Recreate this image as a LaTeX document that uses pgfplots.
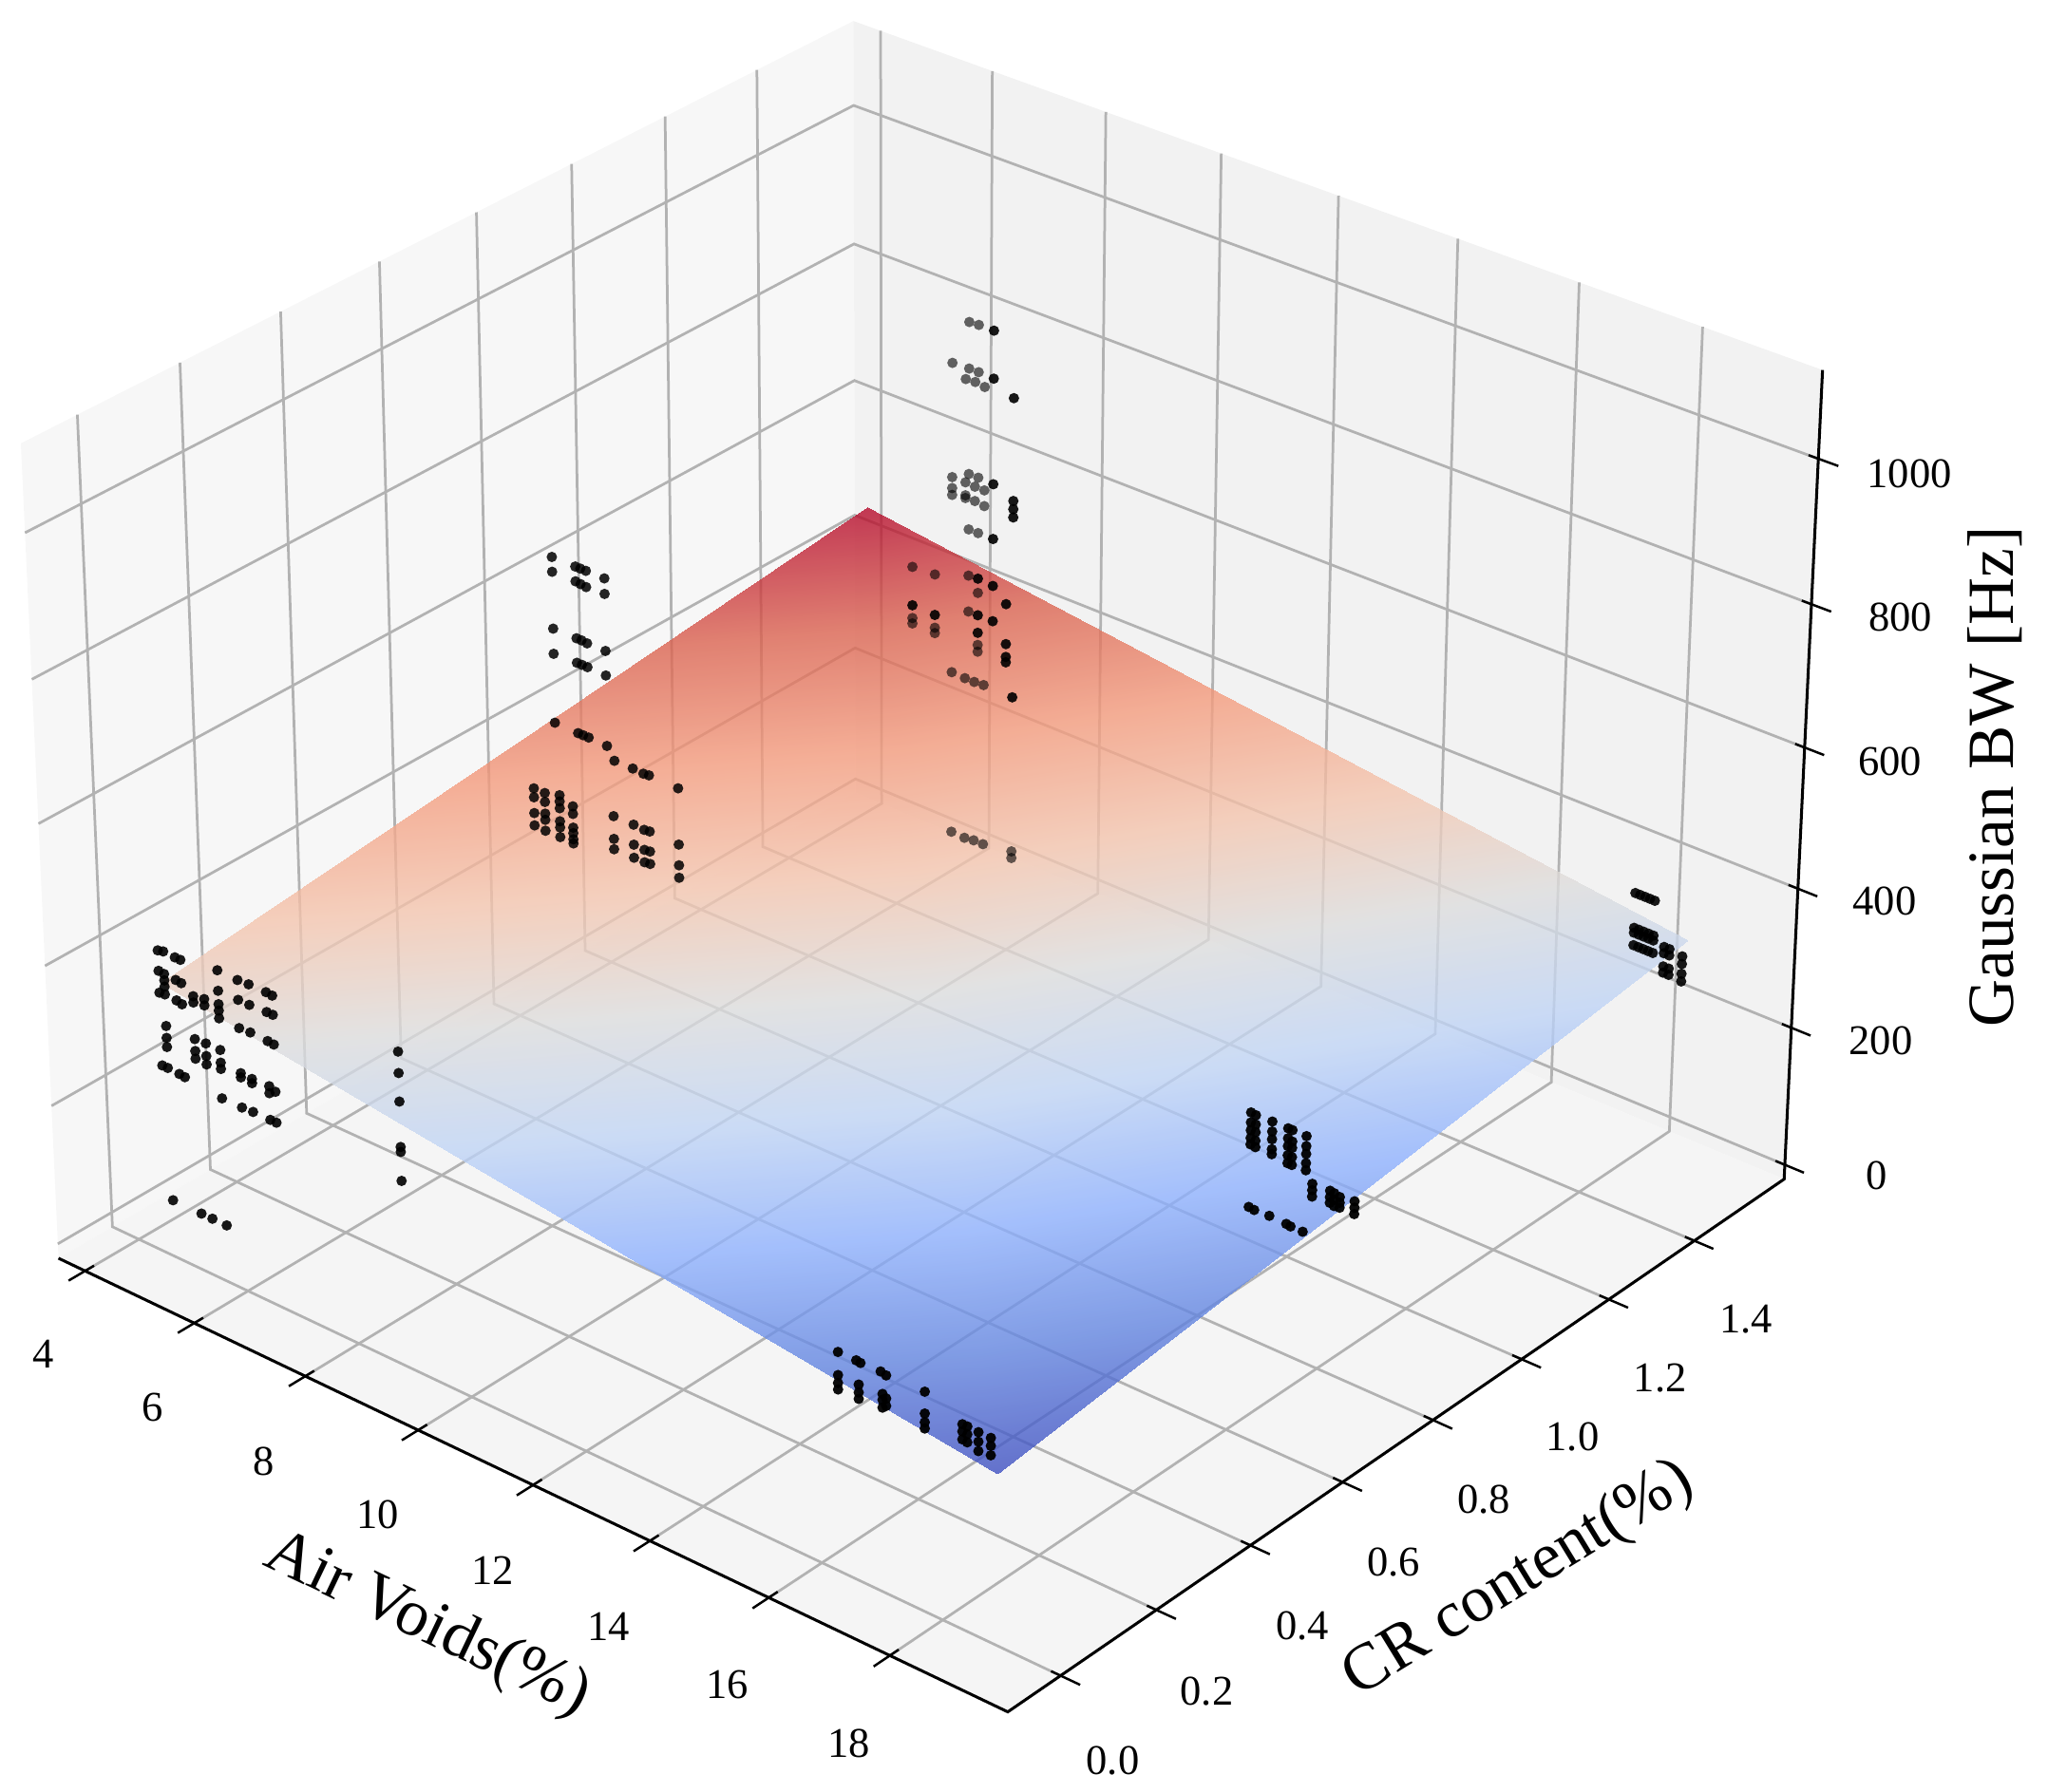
\documentclass[border=0pt]{standalone}
\usepackage{fontspec}
\setmainfont{Liberation Serif}
\usepackage{pgfplots}
\usepackage{pgfplotstable}
\pgfplotsset{compat=1.18}

% camera of the 3D view: data (x,y,z) -> picture pixels
\newcommand*{\Ss}[1]{(((#1)-3.508)/16.407)}
\newcommand*{\Tt}[1]{(((#1)+0.1085)/1.7227)}
\newcommand*{\Rr}[1]{(((#1)+21.1)/1141.6)}
\newcommand*{\PW}[3]{(1-0.06838*\Ss{#1}+0.07939*\Tt{#2}-0.0425*\Rr{#3})}
\newcommand*{\PU}[3]{((674.04*\Ss{#1}+662.2*\Tt{#2}-29.5*\Rr{#3}+44.8)/\PW{#1}{#2}{#3})}
\newcommand*{\PV}[3]{((257.75*\Ss{#1}-308.41*\Tt{#2}-638.5*\Rr{#3}+963.6)/\PW{#1}{#2}{#3})}
\tikzset{
  tl/.style={font=\fontsize{8.1}{10}\selectfont},
  al/.style={font=\fontsize{12.6}{15}\selectfont},
}
\pgfplotsset{
  table/proj/.style={
    row sep=\\,
    x expr={\PU{\thisrow{x}}{\thisrow{y}}{\thisrow{z}}},
    y expr={\PV{\thisrow{x}}{\thisrow{y}}{\thisrow{z}}}},
  gridline/.style={draw=black!30,line width=0.5pt},
  tickline/.style={draw=black,line width=0.45pt},
  pts/.style={only marks,mark=*,mark size=1pt,color=black,
    mark options={draw opacity=0,fill opacity=#1}},
}
\pgfplotsset{colormap={coolwarm}{
  rgb(0)=(0.230,0.299,0.754) rgb(0.125)=(0.375,0.513,0.879)
  rgb(0.25)=(0.552,0.690,0.996) rgb(0.375)=(0.749,0.831,0.964)
  rgb(0.5)=(0.867,0.867,0.867) rgb(0.625)=(0.958,0.770,0.678)
  rgb(0.75)=(0.958,0.604,0.483) rgb(0.875)=(0.857,0.376,0.300)
  rgb(1)=(0.706,0.016,0.150)}}

% CR 0, low voids
\pgfplotstableread[row sep=\\]{
x y z\\
4.57 0 416\\ 4.57 0 387\\ 4.57 0 356\\ 4.57 0 252\\
4.67 0 418\\ 4.67 0 386\\ 4.67 0 377\\ 4.67 0 368\\ 4.67 0 357\\ 4.67 0 312\\ 4.67 0 295\\ 4.67 0 282\\ 4.67 0 252\\ 4.67 0 61\\
4.88 0 417\\ 4.88 0 385\\ 4.88 0 356\\ 4.88 0 251\\
4.98 0 417\\ 4.98 0 384\\ 4.98 0 354\\ 4.98 0 250\\
5.19 0 373\\ 5.19 0 364\\ 5.19 0 312\\ 5.19 0 295\\ 5.19 0 284\\ 5.19 0 61\\
5.39 0 376\\ 5.39 0 367\\ 5.39 0 313\\ 5.39 0 295\\ 5.39 0 283\\ 5.39 0 61\\
5.65 0 426\\ 5.65 0 397\\ 5.65 0 378\\ 5.65 0 369\\ 5.65 0 358\\ 5.65 0 313\\ 5.65 0 295\\ 5.65 0 286\\ 5.65 0 244\\ 5.65 0 61\\
6.01 0 425\\ 6.01 0 397\\ 6.01 0 357\\ 6.01 0 293\\ 6.01 0 287\\ 6.01 0 244\\
6.21 0 426\\ 6.21 0 397\\ 6.21 0 358\\ 6.21 0 292\\ 6.21 0 286\\ 6.21 0 245\\
6.52 0 426\\ 6.52 0 398\\ 6.52 0 357\\ 6.52 0 293\\ 6.52 0 283\\ 6.52 0 245\\
6.63 0 425\\ 6.63 0 398\\ 6.63 0 356\\ 6.63 0 289\\ 6.63 0 245\\
8.85 0 426\\ 8.85 0 396\\ 8.85 0 356\\ 8.85 0 292\\ 8.85 0 285\\ 8.85 0 244\\
}\tabA
% CR 0, high voids
\pgfplotstableread[row sep=\\]{
x y z\\
16.28 0 285\\ 16.28 0 253\\ 16.28 0 242\\ 16.28 0 233\\
16.58 0 285\\ 16.65 0 284\\ 16.62 0 253\\ 16.62 0 242\\ 16.62 0 233\\
16.98 0 285\\ 17.07 0 283\\ 17.01 0 255\\ 17.01 0 247\\ 17.01 0 236\\ 17.07 0 251\\ 17.07 0 241\\
17.70 0 285\\ 17.70 0 255\\ 17.70 0 243\\ 17.70 0 234\\
18.31 0 264\\ 18.31 0 254\\ 18.31 0 243\\ 18.39 0 264\\ 18.39 0 253\\ 18.39 0 242\\
18.57 0 263\\ 18.57 0 250\\ 18.57 0 237\\
18.77 0 263\\ 18.77 0 252\\ 18.77 0 239\\
}\tabF
% CR 0.75, high voids
\pgfplotstableread[row sep=\\]{
x y z\\
17.17 0.755 332\\ 17.17 0.755 318\\ 17.17 0.755 307\\ 17.17 0.755 296\\ 17.17 0.755 287\\
17.25 0.755 331\\ 17.25 0.755 318\\ 17.25 0.755 307\\ 17.25 0.755 295\\ 17.25 0.755 286\\
17.52 0.755 332\\ 17.52 0.755 318\\ 17.52 0.755 307\\ 17.52 0.755 293\\ 17.52 0.755 286\\
17.78 0.755 332\\ 17.78 0.755 318\\ 17.78 0.755 307\\ 17.78 0.755 294\\ 17.78 0.755 283\\
17.85 0.755 332\\ 17.85 0.755 316\\ 17.85 0.755 307\\ 17.85 0.755 294\\ 17.85 0.755 283\\
18.08 0.755 332\\ 18.08 0.755 318\\ 18.08 0.755 307\\ 18.08 0.755 294\\ 18.08 0.755 284\\
18.19 0.755 269\\ 18.19 0.755 260\\ 18.19 0.755 251\\
18.48 0.755 270\\ 18.48 0.755 261\\ 18.48 0.755 253\\
18.55 0.755 269\\ 18.55 0.755 260\\ 18.55 0.755 251\\
18.64 0.755 267\\ 18.64 0.755 259\\ 18.64 0.755 252\\
18.88 0.755 270\\ 18.88 0.755 261\\ 18.88 0.755 252\\
17.16 0.755 198\\ 17.25 0.755 197\\ 17.50 0.755 198\\ 17.78 0.755 197\\ 17.85 0.755 196\\ 18.05 0.755 196\\
}\tabG
% CR 0.75, low voids
\pgfplotstableread[row sep=\\]{
x y z\\
5.14 0.755 704\\ 5.14 0.755 683\\ 5.14 0.755 602\\ 5.14 0.755 566\\ 5.14 0.755 467\\
5.56 0.755 704\\ 5.56 0.755 683\\ 5.56 0.755 602\\ 5.56 0.755 567\\ 5.56 0.755 466\\
5.65 0.755 704\\ 5.65 0.755 682\\ 5.65 0.755 602\\ 5.65 0.755 567\\ 5.65 0.755 466\\
5.75 0.755 704\\ 5.75 0.755 681\\ 5.75 0.755 601\\ 5.75 0.755 567\\ 5.75 0.755 466\\
6.08 0.755 704\\ 6.08 0.755 682\\ 6.08 0.755 601\\ 6.08 0.755 566\\ 6.08 0.755 465\\
6.21 0.755 448\\ 6.54 0.755 448\\ 6.73 0.755 447\\ 6.83 0.755 448\\ 7.35 0.755 447\\
4.73 0.755 358\\ 4.73 0.755 345\\ 4.73 0.755 322\\ 4.73 0.755 304\\
4.93 0.755 358\\ 4.93 0.755 345\\ 4.93 0.755 328\\ 4.93 0.755 319\\ 4.93 0.755 303\\
5.20 0.755 364\\ 5.20 0.755 355\\ 5.20 0.755 345\\ 5.20 0.755 326\\ 5.20 0.755 317\\ 5.20 0.755 303\\
5.44 0.755 356\\ 5.44 0.755 345\\ 5.44 0.755 325\\ 5.44 0.755 317\\ 5.44 0.755 308\\ 5.44 0.755 302\\
6.18 0.755 367\\ 6.18 0.755 334\\ 6.18 0.755 319\\
6.54 0.755 367\\ 6.54 0.755 338\\ 6.54 0.755 319\\
6.73 0.755 366\\ 6.73 0.755 337\\ 6.73 0.755 319\\
6.83 0.755 367\\ 6.83 0.755 338\\ 6.83 0.755 320\\
7.35 0.755 366\\ 7.35 0.755 336\\ 7.35 0.755 318\\
}\tabB
% CR 1.5, low voids, far points (faded)
\pgfplotstableread[row sep=\\]{
x y z\\
6.43 1.51 811\\ 6.60 1.51 812\\ 6.13 1.51 743\\ 6.43 1.51 744\\ 6.60 1.51 744\\
6.37 1.51 727\\ 6.54 1.51 728\\ 6.71 1.51 726\\
6.13 1.51 577\\ 6.13 1.51 561\\ 6.13 1.51 551\\
6.37 1.51 577\\ 6.37 1.51 558\\ 6.37 1.51 554\\
6.43 1.51 591\\ 6.60 1.51 591\\ 6.54 1.51 576\\ 6.71 1.51 576\\ 6.54 1.51 555\\ 6.71 1.51 553\\
6.43 1.51 510\\ 6.60 1.51 510\\
5.41 1.51 422\\ 5.82 1.51 424\\ 6.43 1.51 442\\ 6.60 1.51 422\\ 6.43 1.51 389\\
5.41 1.51 346\\ 5.41 1.51 338\\ 5.82 1.51 345\\ 5.82 1.51 337\\
6.60 1.51 345\\ 6.60 1.51 335\\
6.13 1.51 289\\ 6.37 1.51 288\\ 6.54 1.51 288\\ 6.71 1.51 289\\
6.13 1.51 49\\ 6.37 1.51 48\\ 6.54 1.51 50\\ 6.71 1.51 50\\ 7.23 1.51 57\\ 7.23 1.51 47\\
}\tabCfar
% CR 1.5, low voids, nearer points
\pgfplotstableread[row sep=\\]{
x y z\\
6.87 1.51 812\\ 6.87 1.51 743\\ 7.23 1.51 726\\ 6.87 1.51 590\\
7.23 1.51 577\\ 7.23 1.51 565\\ 7.23 1.51 553\\ 6.87 1.51 510\\
6.60 1.51 443\\ 6.87 1.51 441\\ 7.11 1.51 422\\ 6.60 1.51 389\\ 6.87 1.51 389\\
5.41 1.51 365\\ 5.82 1.51 364\\ 6.60 1.51 363\\ 7.11 1.51 363\\ 7.11 1.51 344\\ 7.11 1.51 336\\ 7.23 1.51 288\\
}\tabCnear
% CR 1.5, high voids
\pgfplotstableread[row sep=\\]{
x y z\\
17.99 1.51 368\\ 18.07 1.51 368\\ 18.15 1.51 368\\ 18.23 1.51 368\\ 18.31 1.51 368\\
17.99 1.51 318\\ 18.07 1.51 318\\ 18.15 1.51 318\\ 18.23 1.51 318\\ 18.31 1.51 318\\
17.99 1.51 311\\ 18.07 1.51 311\\ 18.15 1.51 311\\ 18.23 1.51 311\\ 18.31 1.51 311\\
17.99 1.51 293\\ 18.07 1.51 293\\ 18.15 1.51 293\\ 18.23 1.51 293\\ 18.31 1.51 293\\
18.49 1.51 308\\ 18.49 1.51 299\\ 18.49 1.51 280\\ 18.49 1.51 271\\
18.58 1.51 308\\ 18.58 1.51 299\\ 18.58 1.51 280\\ 18.58 1.51 271\\
18.79 1.51 305\\ 18.79 1.51 294\\ 18.79 1.51 280\\ 18.79 1.51 269\\
}\tabH

\begin{document}
\begin{tikzpicture}
\useasboundingbox (0,0) rectangle (392pt,343pt);
\begin{axis}[
  scale only axis, width=392pt, height=343pt,
  xmin=0, xmax=1568, ymin=0, ymax=1372, y dir=reverse,
  hide axis, clip=false,
  point meta min=218, point meta max=484,
  colormap name=coolwarm,
]
% panes
\addplot[fill=black!3,draw=none] table[proj] {x y z\\ 3.508 -0.1085 -21.1\\ 3.508 1.6142 -21.1\\ 3.508 1.6142 1120.5\\ 3.508 -0.1085 1120.5\\ 3.508 -0.1085 -21.1\\};
\addplot[fill=black!5,draw=none] table[proj] {x y z\\ 3.508 1.6142 -21.1\\ 19.915 1.6142 -21.1\\ 19.915 1.6142 1120.5\\ 3.508 1.6142 1120.5\\ 3.508 1.6142 -21.1\\};
\addplot[fill=black!4,draw=none] table[proj] {x y z\\ 3.508 -0.1085 -21.1\\ 19.915 -0.1085 -21.1\\ 19.915 1.6142 -21.1\\ 3.508 1.6142 -21.1\\ 3.508 -0.1085 -21.1\\};
% grid
\pgfplotsinvokeforeach{4,6,8,10,12,14,16,18}{
  \addplot[gridline] table[proj] {x y z\\ #1 -0.1085 -21.1\\ #1 1.6142 -21.1\\ #1 1.6142 1120.5\\};
  \addplot[tickline] table[proj] {x y z\\ #1 -0.0905 -21.1\\ #1 -0.1415 -21.1\\};
}
\pgfplotsinvokeforeach{0,0.2,0.4,0.6,0.8,1.0,1.2,1.4}{
  \addplot[gridline] table[proj] {x y z\\ 19.915 #1 -21.1\\ 3.508 #1 -21.1\\ 3.508 #1 1120.5\\};
  \addplot[tickline] table[proj] {x y z\\ 19.76 #1 -21.1\\ 20.23 #1 -21.1\\};
}
\pgfplotsinvokeforeach{0,200,400,600,800,1000}{
  \addplot[gridline] table[proj] {x y z\\ 3.508 -0.1085 #1\\ 3.508 1.6142 #1\\ 19.915 1.6142 #1\\};
  \addplot[tickline] table[proj] {x y z\\ 19.76 1.6142 #1\\ 20.23 1.6142 #1\\};
}
% axis lines
\addplot[draw=black,line width=0.55pt] table[proj] {x y z\\ 3.508 -0.1085 -21.1\\ 19.915 -0.1085 -21.1\\ 19.915 1.6142 -21.1\\ 19.915 1.6142 1120.5\\};
% fitted plane
\addplot[patch,patch type=rectangle,shader=interp,opacity=0.78,point meta=\thisrow{z}] table[proj] {x y z\\
4.59 0 370\\ 18.87 0 218\\ 18.87 1.51 331\\ 4.59 1.51 484\\};
% measurements
\addplot[pts=0.6] table[proj] {\tabCfar};
\addplot[pts=0.9] table[proj] {\tabCnear};
\addplot[pts=0.85] table[proj] {\tabB};
\addplot[pts=0.9] table[proj] {\tabA};
\addplot[pts=0.9] table[proj] {\tabH};
\addplot[pts=0.95] table[proj] {\tabG};
\addplot[pts=0.95] table[proj] {\tabF};
% tick labels
\node[tl] at (axis cs:33,1037) {4};
\node[tl] at (axis cs:117,1078) {6};
\node[tl] at (axis cs:202,1119) {8};
\node[tl] at (axis cs:289,1160) {10};
\node[tl] at (axis cs:377,1203) {12};
\node[tl] at (axis cs:466,1246) {14};
\node[tl] at (axis cs:557,1290) {16};
\node[tl] at (axis cs:650,1335) {18};
\node[tl] at (axis cs:852,1348) {0.0};
\node[tl] at (axis cs:924,1295) {0.2};
\node[tl] at (axis cs:997,1245) {0.4};
\node[tl] at (axis cs:1067,1196) {0.6};
\node[tl] at (axis cs:1136,1148) {0.8};
\node[tl] at (axis cs:1204,1100) {1.0};
\node[tl] at (axis cs:1271,1055) {1.2};
\node[tl] at (axis cs:1337,1010) {1.4};
\node[tl] at (axis cs:1437,900) {0};
\node[tl] at (axis cs:1440,797) {200};
\node[tl] at (axis cs:1443,690) {400};
\node[tl] at (axis cs:1447,583) {600};
\node[tl] at (axis cs:1455,473) {800};
\node[tl] at (axis cs:1462,363) {1000};
% axis labels
\node[al,rotate=-25.5] at (axis cs:327,1245) {Air Voids(\%)};
\node[al,rotate=31.5] at (axis cs:1163,1210) {CR content(\%)};
\node[al,rotate=90] at (axis cs:1527,595) {Gaussian BW [Hz]};
\end{axis}
\end{tikzpicture}
\end{document}
